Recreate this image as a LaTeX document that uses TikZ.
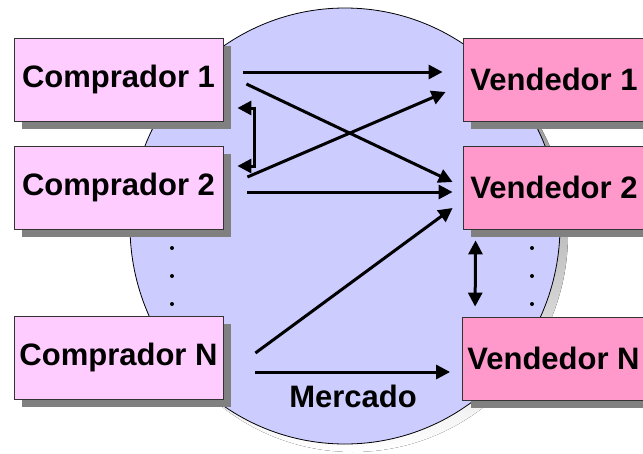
\documentclass[tikz,border=0pt]{standalone}
\usepackage{fontspec}
\setmainfont{Liberation Sans}
\usetikzlibrary{arrows.meta,shadows}
\definecolor{buyer}{HTML}{FFCCFF}
\definecolor{seller}{HTML}{FF99CC}
\definecolor{market}{HTML}{CCCCFF}
\definecolor{shade}{HTML}{808080}
\tikzset{
  label font/.style={font=\fontsize{31}{36}\selectfont\bfseries},
  agent/.style={draw=black!80,line width=0.8pt,inner sep=0pt,minimum height=83pt,label font,
    drop shadow={shadow xshift=8pt,shadow yshift=-8pt,fill=shade,opacity=1}},
  buyerbox/.style={agent,fill=buyer,minimum width=209pt},
  sellerbox/.style={agent,fill=seller,minimum width=182pt},
  flow/.style={line width=3pt,-{Triangle[length=14pt,width=14pt]}},
  twoway/.style={line width=3pt,{Triangle[length=14pt,width=14pt]}-{Triangle[length=14pt,width=14pt]}}
}
\begin{document}
\begin{tikzpicture}[x=1pt,y=-1pt]
\useasboundingbox (0,0) rectangle (643,453);
% market
\fill[shade] (353,234) ellipse [x radius=215,y radius=218];
\draw[fill=market,line width=0.8pt] (345,226) ellipse [x radius=215,y radius=218];
% buyers
\node[buyerbox] (c1) at (118.5,79.5) {Comprador 1};
\node[buyerbox] (c2) at (118.5,187.5) {Comprador 2};
\node[buyerbox] (cn) at (118.5,357.5) {Comprador N};
% sellers
\node[sellerbox] (v1) at (554,79.5) {Vendedor 1};
\node[sellerbox] (v2) at (554,187.5) {Vendedor 2};
\node[sellerbox] (vn) at (553.5,358.5) {Vendedor N};
% dots
\foreach \y in {248,276,304} {
  \fill (172,\y) circle (2);
  \fill (532,\y) circle (2);
}
% flows
\draw[flow] ([shift={(20,-7.5)}]c1.east) -- ([shift={(-20,-7.5)}]v1.west);
\draw[flow] ([shift={(23,4.5)}]c1.east) -- ([shift={(-10,-5.5)}]v2.west);
\draw[flow] ([shift={(24,-10.5)}]c2.east) -- ([shift={(-17,12.5)}]v1.west);
\draw[flow] ([shift={(24,4.5)}]c2.east) -- ([shift={(-10,4.5)}]v2.west);
\draw[flow] ([shift={(32,-4.5)}]cn.east) -- ([shift={(-10,20.5)}]v2.west);
\draw[flow] ([shift={(32,14.5)}]cn.east) -- ([shift={(-12,13.5)}]vn.west);
\draw[twoway] ([shift={(14,28.5)}]c1.east) -- ++(17,0) |- ([shift={(14,-21.5)}]c2.east);
\draw[twoway] ([shift={(13,11)}]v2.south west) -- ([shift={(13,-10)}]vn.north west);
\node[label font] (mkt) at (353,396) {Mercado};
\end{tikzpicture}
\end{document}
